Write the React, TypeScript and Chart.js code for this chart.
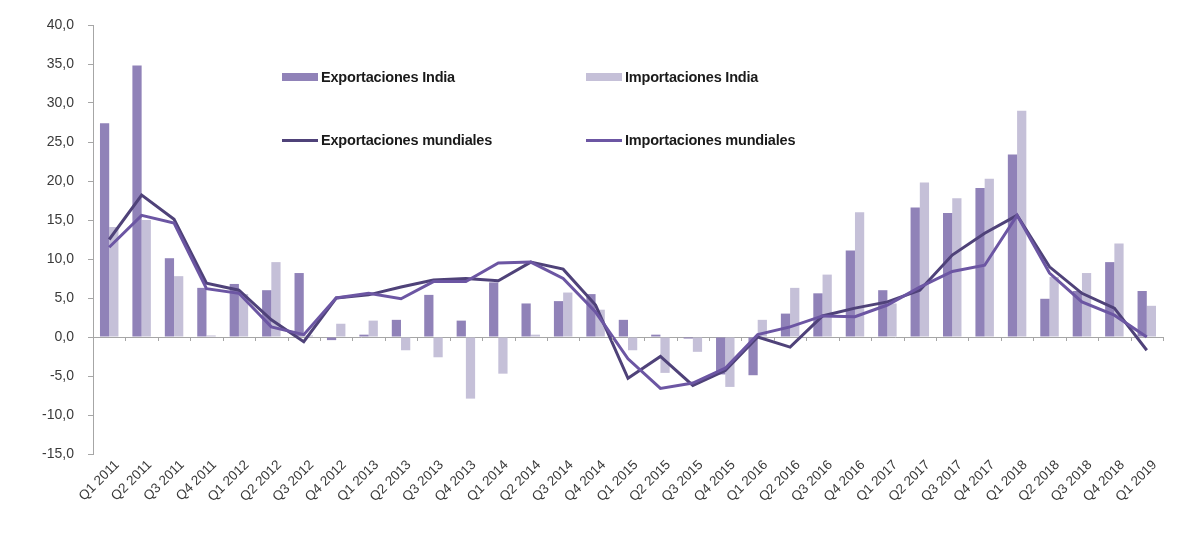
import React, { useEffect, useRef } from "react";
import { Chart, registerables } from "chart.js";

Chart.register(...registerables);

const categories = [
  "Q1 2011", "Q2 2011", "Q3 2011", "Q4 2011",
  "Q1 2012", "Q2 2012", "Q3 2012", "Q4 2012",
  "Q1 2013", "Q2 2013", "Q3 2013", "Q4 2013",
  "Q1 2014", "Q2 2014", "Q3 2014", "Q4 2014",
  "Q1 2015", "Q2 2015", "Q3 2015", "Q4 2015",
  "Q1 2016", "Q2 2016", "Q3 2016", "Q4 2016",
  "Q1 2017", "Q2 2017", "Q3 2017", "Q4 2017",
  "Q1 2018", "Q2 2018", "Q3 2018", "Q4 2018",
  "Q1 2019",
];

const exportacionesIndia = [
  27.4, 34.8, 10.1, 6.3,
  6.8, 6.0, 8.2, -0.4,
  0.3, 2.2, 5.4, 2.1,
  7.0, 4.3, 4.6, 5.5,
  2.2, 0.3, -0.2, -4.8,
  -4.9, 3.0, 5.6, 11.1,
  6.0, 16.6, 15.9, 19.1,
  23.4, 4.9, 5.9, 9.6,
  5.9,
];

const importacionesIndia = [
  14.1, 15.0, 7.8, 0.2,
  5.5, 9.6, 0.2, 1.7,
  2.1, -1.7, -2.6, -7.9,
  -4.7, 0.3, 5.7, 3.5,
  -1.7, -4.6, -1.9, -6.4,
  2.2, 6.3, 8.0, 16.0,
  4.3, 19.8, 17.8, 20.3,
  29.0, 7.7, 8.2, 12.0,
  4.0,
];

const exportacionesMundiales = [
  12.5, 18.2, 15.1, 6.9,
  6.0, 2.2, -0.6, 5.0,
  5.4, 6.4, 7.3, 7.5,
  7.2, 9.6, 8.7, 4.1,
  -5.3, -2.5, -6.2, -4.3,
  0.0, -1.3, 2.7, 3.7,
  4.5, 6.0, 10.5, 13.3,
  15.6, 9.0, 5.6, 3.7,
  -1.7,
];

const importacionesMundiales = [
  11.5, 15.6, 14.6, 6.2,
  5.6, 1.3, 0.3, 5.0,
  5.6, 4.9, 7.1, 7.1,
  9.5, 9.6, 7.5, 3.2,
  -2.8, -6.6, -5.9, -4.0,
  0.3, 1.3, 2.7, 2.6,
  4.1, 6.4, 8.4, 9.2,
  15.6, 8.2, 4.5, 2.8,
  0.0,
];

const yMin = -15;
const yMax = 40;
const yStep = 5;

const C_EXP_BAR = "#9082b8";
const C_IMP_BAR = "#c5c0d8";
const C_EXP_LINE = "#4f4279";
const C_IMP_LINE = "#6c56a3";
const AXIS = "#a6a6a6";

const zeroTicks = {
  id: "zeroTicks",
  afterDatasetsDraw(chart: any) {
    const x = chart.scales.x;
    const y = chart.scales.y;
    const y0 = y.getPixelForValue(0);
    const n = chart.data.labels.length;
    const ctx = chart.ctx;
    ctx.save();
    ctx.strokeStyle = AXIS;
    ctx.lineWidth = 1;
    ctx.beginPath();
    for (let i = 0; i <= n; i++) {
      const px = x.left + ((x.right - x.left) * i) / n;
      ctx.moveTo(Math.round(px) + 0.5, y0);
      ctx.lineTo(Math.round(px) + 0.5, y0 + 4);
    }
    ctx.stroke();
    ctx.restore();
  },
};

const legendItems = [
  { label: "Exportaciones India", color: C_EXP_BAR, kind: "bar", left: 282, top: 77 },
  { label: "Importaciones India", color: C_IMP_BAR, kind: "bar", left: 586, top: 77 },
  { label: "Exportaciones mundiales", color: C_EXP_LINE, kind: "line", left: 282, top: 140 },
  { label: "Importaciones mundiales", color: C_IMP_LINE, kind: "line", left: 586, top: 140 },
];

export default function App() {
  const canvasRef = useRef<HTMLCanvasElement | null>(null);

  useEffect(() => {
    document.body.style.margin = "0";
    const canvas = canvasRef.current;
    if (!canvas) return;
    const chart = new Chart(canvas, {
      type: "bar",
      data: {
        labels: categories,
        datasets: [
          {
            type: "line",
            label: "Exportaciones mundiales",
            data: exportacionesMundiales,
            borderColor: C_EXP_LINE,
            backgroundColor: C_EXP_LINE,
            borderWidth: 3,
            pointRadius: 0,
            tension: 0,
            order: 1,
          },
          {
            type: "line",
            label: "Importaciones mundiales",
            data: importacionesMundiales,
            borderColor: C_IMP_LINE,
            backgroundColor: C_IMP_LINE,
            borderWidth: 3,
            pointRadius: 0,
            tension: 0,
            order: 0,
          },
          {
            type: "bar",
            label: "Exportaciones India",
            data: exportacionesIndia,
            backgroundColor: C_EXP_BAR,
            barPercentage: 1,
            categoryPercentage: 0.57,
            order: 2,
          },
          {
            type: "bar",
            label: "Importaciones India",
            data: importacionesIndia,
            backgroundColor: C_IMP_BAR,
            barPercentage: 1,
            categoryPercentage: 0.57,
            order: 3,
          },
        ],
      } as any,
      options: {
        animation: false,
        responsive: false,
        maintainAspectRatio: false,
        layout: { padding: { top: 25, right: 36, bottom: 0, left: 0 } },
        plugins: {
          legend: { display: false },
          tooltip: { enabled: false },
        },
        scales: {
          x: {
            grid: { display: false },
            border: { display: false },
            ticks: {
              autoSkip: false,
              maxRotation: 45,
              minRotation: 45,
              color: "#3a3a3a",
              font: { family: "Liberation Sans", size: 13.5 },
              padding: -5,
              labelOffset: 8,
            },
            afterFit: (scale: any) => {
              scale.height = 81;
            },
          },
          y: {
            min: yMin,
            max: yMax,
            ticks: {
              stepSize: yStep,
              color: "#3a3a3a",
              font: { family: "Liberation Sans", size: 14 },
              padding: 14,
              callback: (v: any) => Number(v).toFixed(1).replace(".", ","),
            },
            grid: {
              color: (ctx: any) => (ctx.tick && ctx.tick.value === 0 ? AXIS : "rgba(0,0,0,0)"),
              tickColor: AXIS,
              tickLength: 5,
              drawTicks: true,
            },
            border: { display: true, color: AXIS },
            afterFit: (scale: any) => {
              scale.width = 93;
            },
          },
        },
      } as any,
      plugins: [zeroTicks],
    });
    return () => chart.destroy();
  }, []);

  return (
    <div style={{ position: "relative", width: 1199, height: 535, background: "#fff" }}>
      <canvas ref={canvasRef} width={1199} height={535} style={{ display: "block" }} />
      {legendItems.map((it) => (
        <div
          key={it.label}
          style={{
            position: "absolute",
            left: it.left,
            top: it.top - 10,
            height: 20,
            display: "flex",
            alignItems: "center",
            fontFamily: "Liberation Sans, Arial, sans-serif",
            fontWeight: 700,
            fontSize: 14.5,
            color: "#1a1a1a",
            whiteSpace: "nowrap",
          }}
        >
          <span
            style={{
              display: "inline-block",
              width: 36,
              height: it.kind === "bar" ? 8 : 3,
              background: it.color,
              marginRight: 3,
            }}
          />
          <span style={{ letterSpacing: -0.2 }}>{it.label}</span>
        </div>
      ))}
    </div>
  );
}
